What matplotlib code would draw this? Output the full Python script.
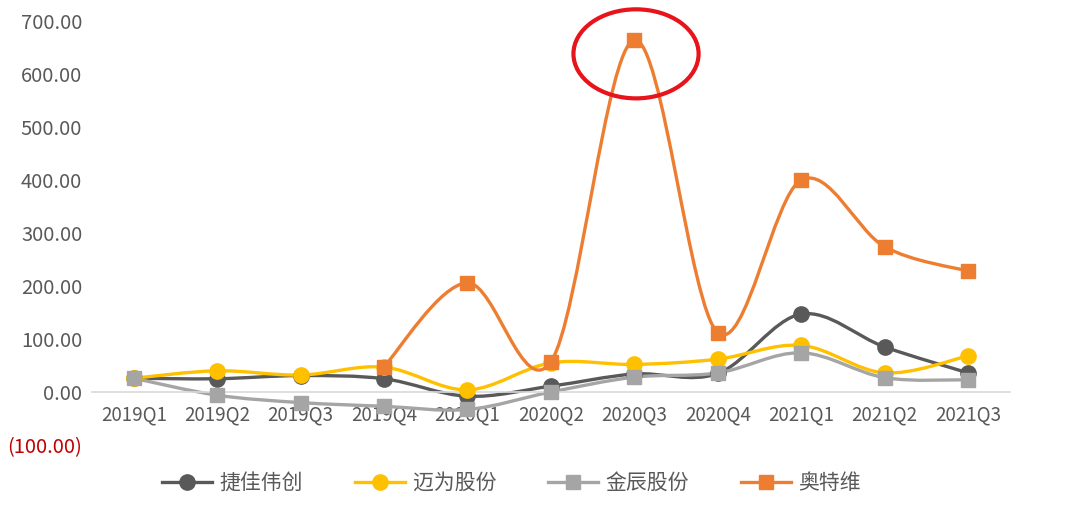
import numpy as np
import matplotlib.pyplot as plt
from matplotlib.path import Path
from matplotlib.patches import PathPatch, Ellipse
from matplotlib.lines import Line2D

plt.rcParams['font.family'] = ['Noto Sans CJK SC', 'DejaVu Sans']

# 数据
quarters = ["2019Q1", "2019Q2", "2019Q3", "2019Q4", "2020Q1", "2020Q2",
            "2020Q3", "2020Q4", "2021Q1", "2021Q2", "2021Q3"]
jiejia = [26, 25, 31, 25, -8, 11, 34, 35, 147, 85, 36]
maiwei = [26, 40, 32, 47, 4, 55, 52, 62, 88, 36, 68]
jinchen = [26, -6, -20, -27, -33, 0, 28, 36, 74, 27, 23]
aotewei = [None, None, None, 48, 206, 57, 664, 112, 400, 274, 228]
names = ["捷佳伟创", "迈为股份", "金辰股份", "奥特维"]
yticks = [-100, 0, 100, 200, 300, 400, 500, 600, 700]

colors = ["#595959", "#FFC000", "#A5A5A5", "#ED7D31"]
markers = ["o", "o", "s", "s"]
msizes = [11, 11, 9.5, 9.5]

fig = plt.figure(figsize=(10.66, 5.22), dpi=100)
ax = fig.add_axes([0.0863, 0.1475, 0.861, 0.8123])


def smooth_path(xs, ys):
    # Bezier curve through points (like Excel smoothed line)
    pts = np.column_stack([xs, ys]).astype(float)
    n = len(pts)
    verts = [pts[0]]
    codes = [Path.MOVETO]
    for i in range(n - 1):
        p0 = pts[i - 1] if i > 0 else pts[i]
        p1 = pts[i]
        p2 = pts[i + 1]
        p3 = pts[i + 2] if i + 2 < n else pts[i + 1]
        c1 = p1 + (p2 - p0) / 6
        c2 = p2 - (p3 - p1) / 6
        verts += [c1, c2, p2]
        codes += [Path.CURVE4] * 3
    return Path(verts, codes)


series = [jiejia, maiwei, jinchen, aotewei]
for k, vals in enumerate(series):
    idx = [i for i, v in enumerate(vals) if v is not None]
    ys = [vals[i] for i in idx]
    ax.add_patch(PathPatch(smooth_path(idx, ys), fill=False, edgecolor=colors[k],
                           lw=2.4, zorder=2 + k * 0.1, capstyle='round'))
    ax.plot(idx, ys, linestyle='none', marker=markers[k], ms=msizes[k],
            color=colors[k], zorder=3 + k * 0.1)

ax.set_xlim(-0.5, 10.5)
ax.set_ylim(-100, 700)

for s in ['top', 'right', 'left']:
    ax.spines[s].set_visible(False)
ax.spines['bottom'].set_position(('data', 0))
ax.spines['bottom'].set_color('#D9D9D9')
ax.spines['bottom'].set_linewidth(1.2)

ax.set_xticks(range(len(quarters)))
ax.set_xticklabels(quarters, fontsize=13.5, color='#595959')
ax.tick_params(axis='x', length=0, pad=9)

ax.set_yticks(yticks)
ylabels = ["(100.00)" if v < 0 else f"{v:.2f}" for v in yticks]
ax.set_yticklabels(ylabels, fontsize=14.5, color='#595959')
ax.get_yticklabels()[0].set_color('#C00000')
ax.tick_params(axis='y', length=0, pad=7)

# 红圈
ax.add_patch(Ellipse((6.02, 638), 1.5, 168, fill=False, edgecolor='#E8141B',
                     lw=3, zorder=5, clip_on=False))

handles = [Line2D([], [], color=colors[k], lw=2.4, marker=markers[k],
                  ms=msizes[k]) for k in range(4)]
fig.legend(handles, names, loc='center', bbox_to_anchor=(0.48, 0.075), ncol=4,
           frameon=False, fontsize=15, labelcolor='#595959', handlelength=2.4,
           columnspacing=2.5, handletextpad=0.35)

fig.savefig("out.png", dpi=100)
